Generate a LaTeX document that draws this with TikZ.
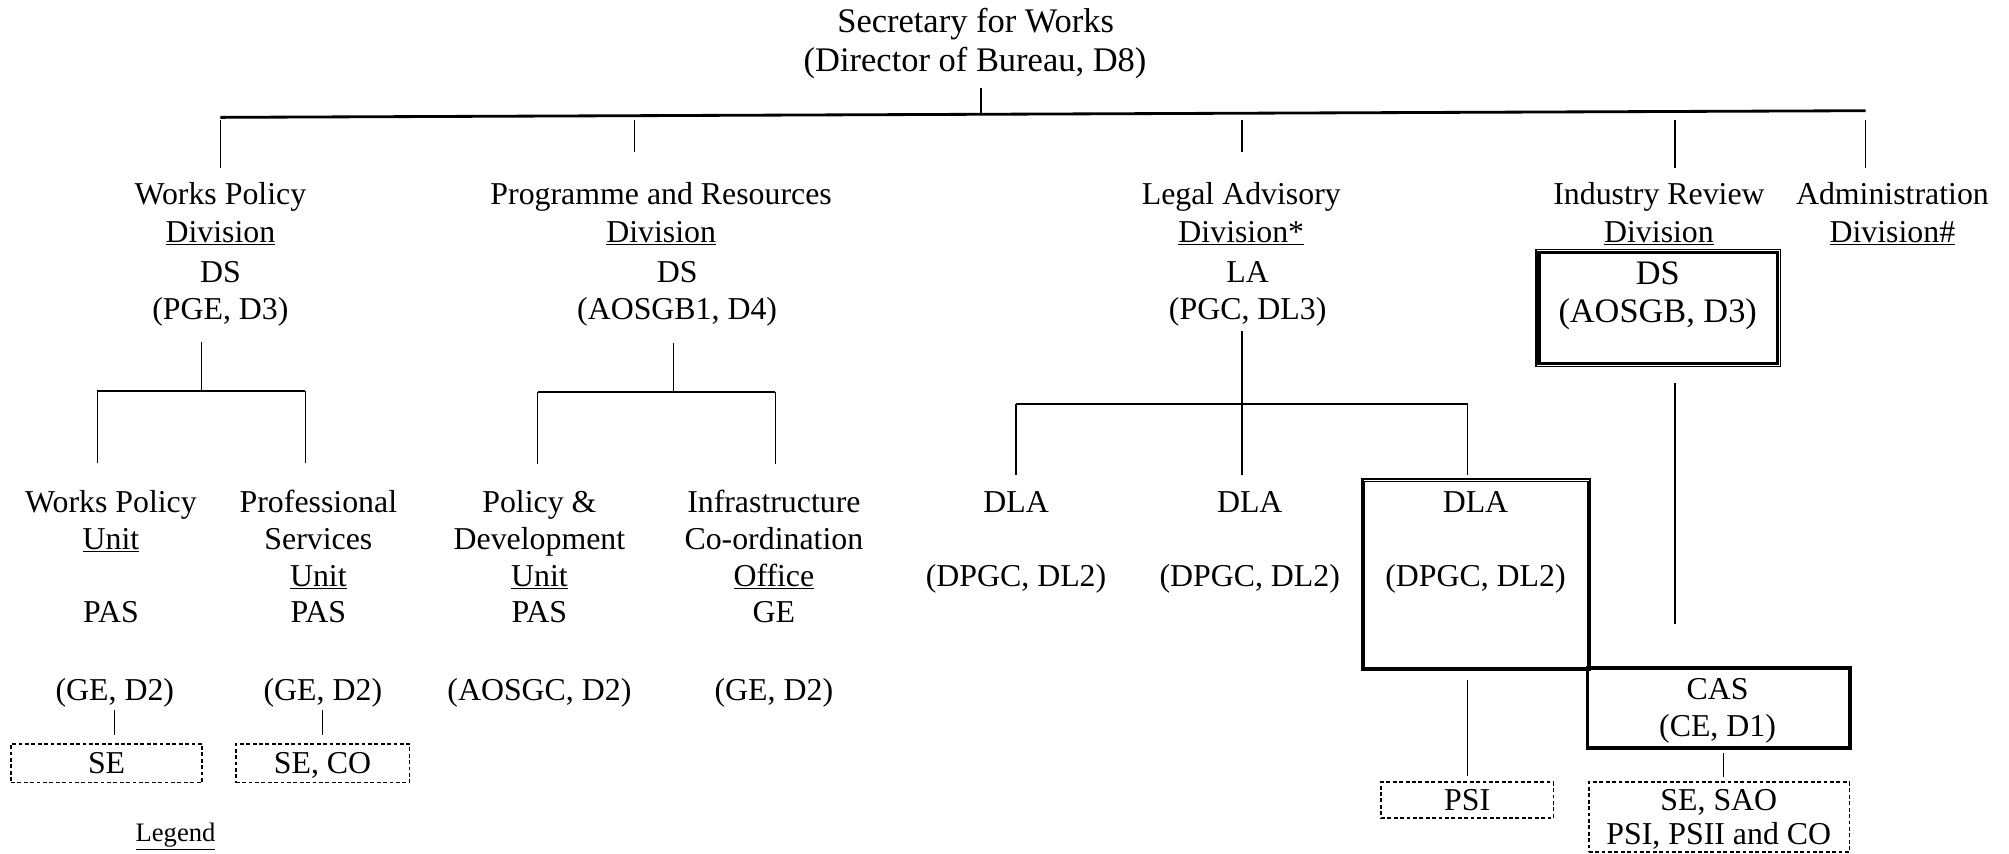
\documentclass[tikz,border=0pt]{standalone}
\usepackage{fontspec}
\setmainfont{Liberation Serif}
\begin{document}
\begin{tikzpicture}[x=1pt,y=-1pt,
  txt/.style={inner sep=0pt, anchor=base, font=\fontsize{24.85}{29}\selectfont},
  ttl/.style={txt, font=\fontsize{26.9}{31}\selectfont},
  bigtxt/.style={txt, font=\fontsize{26.8}{31}\selectfont},
  smalltxt/.style={txt, font=\fontsize{20.8}{24}\selectfont},
  conn/.style={line width=0.9pt},
  barline/.style={line width=1.5pt},
  mainbar/.style={line width=2.2pt},
  dbox/.style={draw, dash pattern=on 3pt off 2pt, line width=1.3pt, inner sep=0pt,
    text height=16.4pt, text depth=0pt, font=\fontsize{24.85}{29}\selectfont},
  frame/.style={draw, inner sep=0pt},
]
\useasboundingbox (0,0) rectangle (1568,666);

% ---------- top ----------
\node[ttl] (sec) at (761.5,25) {Secretary for Works};
\node[ttl] (dir) at (761,56) {(Director of Bureau, D8)};
\coordinate (stemtop) at (765.6,69);
\coordinate (stembot) at (765.6,89);
\coordinate (barL) at (172,91.6);
\coordinate (barR) at (1456,86.4);
\draw[conn] (stemtop) -- (stembot);
\draw[mainbar] (barL) -- (barR);

% division drops
\coordinate (d1t) at (172,94);    \coordinate (d1b) at (172,131);
\coordinate (d2t) at (495.5,94);  \coordinate (d2b) at (495.5,119);
\coordinate (d3t) at (969.4,94);  \coordinate (d3b) at (969.4,119);
\coordinate (d4t) at (1307.3,94); \coordinate (d4b) at (1307.3,131);
\coordinate (d5t) at (1456,94);   \coordinate (d5b) at (1456,131);
\draw[conn] (d1t) -- (d1b);
\draw[conn] (d2t) -- (d2b);
\draw[conn] (d3t) -- (d3b);
\draw[conn] (d4t) -- (d4b);
\draw[conn] (d5t) -- (d5b);

% ---------- divisions ----------
\node[txt] (wpd1) at (172,160) {Works Policy};
\node[txt] (wpd2) at (172,189) {\underline{Division}};
\node[txt] (wpd3) at (172,220.5) {DS};
\node[txt] (wpd4) at (172,249.5) {(PGE, D3)};

\node[txt] (prd1) at (516,160) {Programme and Resources};
\node[txt] (prd2) at (516,189) {\underline{Division}};
\node[txt] (prd3) at (528.5,220.5) {DS};
\node[txt] (prd4) at (528.5,249.5) {(AOSGB1, D4)};

\node[txt] (lad1) at (968.8,160) {Legal Advisory};
\node[txt] (lad2) at (968.8,189) {\underline{Division*}};
\node[txt] (lad3) at (973.8,220.5) {LA};
\node[txt] (lad4) at (973.8,249.5) {(PGC, DL3)};

\node[txt] (ird1) at (1294.8,160) {Industry Review};
\node[txt] (ird2) at (1294.8,189) {\underline{Division}};
\node[frame, line width=0.9pt, minimum width=190.9pt, minimum height=91.6pt] (dsbox) at (1294.25,240.4) {};
\draw[line width=2.6pt] ([xshift=2.9pt,yshift=-2.9pt]dsbox.north west) rectangle ([xshift=-2.9pt,yshift=2.9pt]dsbox.south east);
\node[bigtxt] (ird3) at (1293.8,222) {DS};
\node[bigtxt] (ird4) at (1293.8,252) {(AOSGB, D3)};

\node[txt] (add1) at (1477,160) {Administration};
\node[txt] (add2) at (1477,189) {\underline{Division\#}};

% ---------- Works Policy sub-tree ----------
\coordinate (wps1) at (157,267);
\coordinate (wps2) at (157,305);
\coordinate (wpbL) at (76,305);
\coordinate (wpbR) at (238.4,305);
\coordinate (wpbLd) at (76,361.5);
\coordinate (wpbRd) at (238.4,361.5);
\draw[conn] (wps1) -- (wps2);
\draw[barline] (wpbL) -- (wpbR);
\draw[conn] (wpbL) -- (wpbLd);
\draw[conn] (wpbR) -- (wpbRd);

% ---------- Programme sub-tree ----------
\coordinate (prs1) at (525.6,268);
\coordinate (prs2) at (525.6,306);
\coordinate (prbL) at (419.6,306);
\coordinate (prbR) at (605,306);
\coordinate (prbLd) at (419.6,362);
\coordinate (prbRd) at (605,362);
\draw[conn] (prs1) -- (prs2);
\draw[barline] (prbL) -- (prbR);
\draw[conn] (prbL) -- (prbLd);
\draw[conn] (prbR) -- (prbRd);

% ---------- Legal sub-tree ----------
\coordinate (las1) at (969.4,258);
\coordinate (las2) at (969.4,370.7);
\coordinate (labL) at (793,315);
\coordinate (labR) at (1145.6,315);
\coordinate (labLd) at (793,370.7);
\coordinate (labRd) at (1145.6,370.7);
\draw[conn] (las1) -- (las2);
\draw[barline] (labL) -- (labR);
\draw[conn] (labL) -- (labLd);
\draw[conn] (labR) -- (labRd);

% ---------- Industry line ----------
\coordinate (irs1) at (1307.3,299);
\coordinate (irs2) at (1307.3,487);
\draw[conn] (irs1) -- (irs2);

% ---------- units ----------
\node[txt] (u1a) at (86.6,400) {Works Policy};
\node[txt] (u1b) at (86.6,428.5) {\underline{Unit}};
\node[txt] (u1c) at (86.6,485.5) {PAS};
\node[txt] (u1d) at (89.6,547) {(GE, D2)};

\node[txt] (u2a) at (248.5,400) {Professional};
\node[txt] (u2b) at (248.5,428.5) {Services};
\node[txt] (u2c) at (248.5,457.5) {\underline{Unit}};
\node[txt] (u2d) at (248.5,485.5) {PAS};
\node[txt] (u2e) at (252,547) {(GE, D2)};

\node[txt] (u3a) at (421,400) {Policy \&};
\node[txt] (u3b) at (421,428.5) {Development};
\node[txt] (u3c) at (421,457.5) {\underline{Unit}};
\node[txt] (u3d) at (421,485.5) {PAS};
\node[txt] (u3e) at (421,547) {(AOSGC, D2)};

\node[txt] (u4a) at (604,400) {Infrastructure};
\node[txt] (u4b) at (604,428.5) {Co-ordination};
\node[txt] (u4c) at (604,457.5) {\underline{Office}};
\node[txt] (u4d) at (604,485.5) {GE};
\node[txt] (u4e) at (604,547) {(GE, D2)};

% ---------- DLA ----------
\node[txt] (dla1a) at (793,400) {DLA};
\node[txt] (dla1b) at (793,457.5) {(DPGC, DL2)};
\node[txt] (dla2a) at (975.4,400) {DLA};
\node[txt] (dla2b) at (975.4,457.5) {(DPGC, DL2)};
\node[frame, line width=2pt, minimum width=177.8pt, minimum height=149pt] (dlabox) at (1152.1,448.5) {};
\draw[line width=0.9pt] ([xshift=2.6pt,yshift=-2.6pt]dlabox.north west) rectangle ([xshift=-2.6pt,yshift=2.6pt]dlabox.south east);
\node[txt] (dla3a) at (1151.6,400) {DLA};
\node[txt] (dla3b) at (1151.6,457.5) {(DPGC, DL2)};

% ---------- CAS ----------
\node[frame, line width=2pt, minimum width=205.9pt, minimum height=63pt] (casbox) at (1341.45,552.5) {};
\draw[line width=0.9pt] ([xshift=2.6pt,yshift=-2.6pt]casbox.north west) rectangle ([xshift=-2.6pt,yshift=2.6pt]casbox.south east);
\node[txt] (cas1) at (1340.5,545.8) {CAS};
\node[txt] (cas2) at (1340.5,575) {(CE, D1)};

% ---------- dashed boxes ----------
\node[dbox, minimum width=149.4pt, minimum height=30.2pt] (se) at (83.2,595.7) {SE};
\node[dbox, minimum width=135.5pt, minimum height=30.2pt] (seco) at (251.75,595.7) {SE, CO};
\node[dbox, minimum width=134.6pt, minimum height=28.1pt] (psi) at (1145.1,624.55) {PSI};
\node[dbox, minimum width=203.4pt, minimum height=54.5pt] (sesao) at (1341.7,637.75) {};
\node[txt] (sesao1) at (1341.5,632.2) {SE, SAO};
\node[txt] (sesao2) at (1341.5,659.5) {PSI, PSII and CO};

\coordinate (c1t) at (89.6,554);   \coordinate (c1b) at (89.6,573.7);
\coordinate (c2t) at (252,554);    \coordinate (c2b) at (252,573.7);
\coordinate (c3t) at (1145.6,531); \coordinate (c3b) at (1145.6,606);
\coordinate (c4t) at (1345,588);   \coordinate (c4b) at (1345,606.5);
\draw[conn] (c1t) -- (c1b);
\draw[conn] (c2t) -- (c2b);
\draw[conn] (c3t) -- (c3b);
\draw[conn] (c4t) -- (c4b);

% ---------- legend ----------
\node[smalltxt] (legend) at (137,657) {\underline{Legend}};
\end{tikzpicture}
\end{document}
